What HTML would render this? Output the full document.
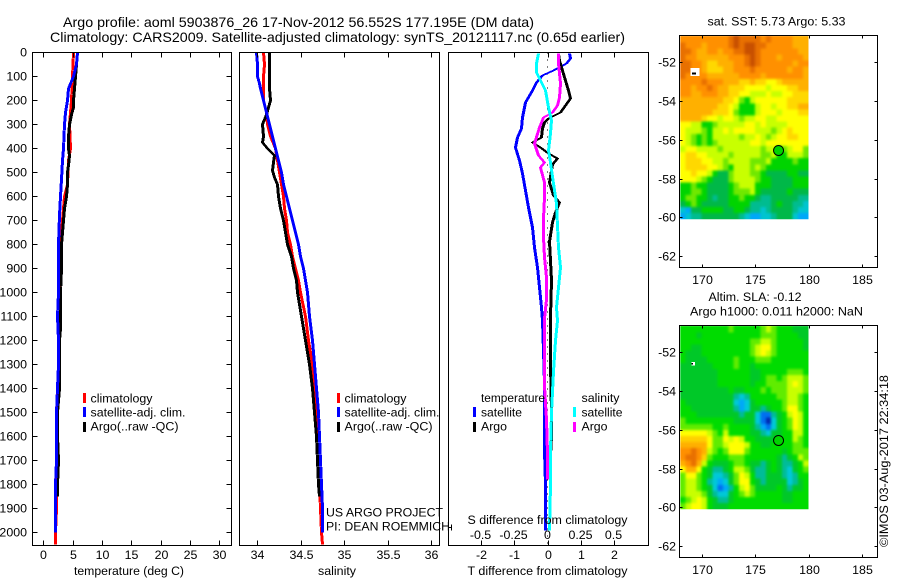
<!DOCTYPE html>
<html>
<head>
<meta charset="utf-8">
<title>Argo profile</title>
<style>
html,body{margin:0;padding:0;background:#fff;}
svg{display:block;}
text{font-family:"Liberation Sans",sans-serif;font-size:12.4px;fill:#000;}
</style>
</head>
<body>
<svg id="chart" xmlns="http://www.w3.org/2000/svg" width="900" height="580" viewBox="0 0 900 580">
  <defs>
    <filter id="soften" x="-5%" y="-5%" width="110%" height="110%" color-interpolation-filters="sRGB">
      <feGaussianBlur stdDeviation="1.3"/>
    </filter>
    <clipPath id="clip-map-0"><rect id="clip-rect-0"/></clipPath>
    <clipPath id="clip-map-1"><rect id="clip-rect-1"/></clipPath>
  </defs>
  <rect x="0" y="0" width="900" height="580" fill="#fff"/>
  <text x="63" y="27" style="font-size:14px" textLength="471" lengthAdjust="spacingAndGlyphs">Argo profile: aoml 5903876_26 17-Nov-2012 56.552S 177.195E (DM data)</text>
  <text x="50" y="42" style="font-size:14px" textLength="575" lengthAdjust="spacingAndGlyphs">Climatology: CARS2009. Satellite-adjusted climatology: synTS_20121117.nc (0.65d earlier)</text>

  <g id="layer-heat"></g>
  <g id="layer-lines"></g>
  <g id="layer-axes"></g>

  <text x="74" y="575" textLength="110" lengthAdjust="spacingAndGlyphs">temperature (deg C)</text>
  <text x="318" y="575" textLength="38" lengthAdjust="spacingAndGlyphs">salinity</text>
  <text x="467.5" y="524" textLength="160" lengthAdjust="spacingAndGlyphs">S difference from climatology</text>
  <text x="467.5" y="575" textLength="160" lengthAdjust="spacingAndGlyphs">T difference from climatology</text>

  <g>
    <rect x="83" y="393" width="3" height="10" fill="#f00"/>
    <rect x="83" y="407" width="3" height="10" fill="#00f"/>
    <rect x="83" y="422" width="3" height="10" fill="#000"/>
    <text x="90.5" y="402.5" textLength="62" lengthAdjust="spacingAndGlyphs">climatology</text>
    <text x="90.5" y="416.5" textLength="95" lengthAdjust="spacingAndGlyphs">satellite-adj. clim.</text>
    <text x="90.5" y="430.5" textLength="88" lengthAdjust="spacingAndGlyphs">Argo(..raw -QC)</text>
  </g>
  <g>
    <rect x="337" y="393" width="3" height="10" fill="#f00"/>
    <rect x="337" y="407" width="3" height="10" fill="#00f"/>
    <rect x="337" y="422" width="3" height="10" fill="#000"/>
    <text x="344.5" y="402.5" textLength="62" lengthAdjust="spacingAndGlyphs">climatology</text>
    <text x="344.5" y="416.5" textLength="95" lengthAdjust="spacingAndGlyphs">satellite-adj. clim.</text>
    <text x="344.5" y="430.5" textLength="88" lengthAdjust="spacingAndGlyphs">Argo(..raw -QC)</text>
    <text x="326" y="516.5" textLength="117" lengthAdjust="spacingAndGlyphs">US ARGO PROJECT</text>
    <text x="326" y="530.5" textLength="124" lengthAdjust="spacingAndGlyphs">PI: DEAN ROEMMICH</text>
  </g>
  <g>
    <text x="481" y="402" textLength="64" lengthAdjust="spacingAndGlyphs">temperature</text>
    <rect x="473" y="407" width="3" height="10" fill="#00f"/>
    <text x="481" y="416.5" textLength="41" lengthAdjust="spacingAndGlyphs">satellite</text>
    <rect x="473" y="422" width="3" height="10" fill="#000"/>
    <text x="481" y="430.5" textLength="26" lengthAdjust="spacingAndGlyphs">Argo</text>
    <text x="581.5" y="402" textLength="38" lengthAdjust="spacingAndGlyphs">salinity</text>
    <rect x="573" y="407" width="3" height="10" fill="#00ffff"/>
    <text x="581.5" y="416.5" textLength="41" lengthAdjust="spacingAndGlyphs">satellite</text>
    <rect x="573" y="422" width="3" height="10" fill="#f0f"/>
    <text x="581.5" y="430.5" textLength="26" lengthAdjust="spacingAndGlyphs">Argo</text>
  </g>

  <text x="707.5" y="25.5" textLength="138" lengthAdjust="spacingAndGlyphs">sat. SST: 5.73 Argo: 5.33</text>
  <text x="708.5" y="301" textLength="93" lengthAdjust="spacingAndGlyphs">Altim. SLA: -0.12</text>
  <text x="690" y="315.5" textLength="173" lengthAdjust="spacingAndGlyphs">Argo h1000: 0.011 h2000: NaN</text>
  <text transform="translate(888,547) rotate(-90)" textLength="172" lengthAdjust="spacingAndGlyphs">©IMOS 03-Aug-2017 22:34:18</text>
</svg>

<script>
// ---- tick labels ----
const depthTicks = [0,100,200,300,400,500,600,700,800,900,1000,1100,1200,1300,1400,1500,1600,1700,1800,1900,2000];
const temperatureTicks = [0,5,10,15,20,25,30];
const salinityTicks = [34,34.5,35,35.5,36];
const salinityTickLabels = ["34","34.5","35","35.5","36"];
const tDiffTicks = [-2,-1,0,1,2];
const sDiffTicks = [-0.5,-0.25,0,0.25,0.5];
const latTicks = [-52,-54,-56,-58,-60,-62];
const lonTicks = [170,175,180,185];

// ---- temperature profiles (deg C) ----
const climTDepth = [0,100,200,300,400,450,550,600,700,800,900,1000,1100,1200,1300,1400,1500,1600,1700,1800,1900,2000,2050];
const climT = [5.0,4.84,4.66,4.44,4.55,4.27,3.98,3.5,3.2,2.9,2.73,2.6,2.55,2.5,2.45,2.4,2.35,2.3,2.25,2.2,2.15,2.05,2.05];
const satTDepth = [0,50,100,150,200,250,300,400,450,530,600,680,800,900,1000,1100,1200,1300,1400,1500,1600,1700,1800,1900,2000];
const satT = [5.8,5.57,5.0,4.27,4.0,3.7,3.5,3.4,3.24,3.07,2.9,2.73,2.56,2.5,2.56,2.4,2.5,2.45,2.33,2.16,2.2,2.16,2.0,2.0,2.0];
const argoTDepth = [0,50,100,200,230,260,300,350,400,430,470,500,550,600,650,700,750,800,900,1000,1150,1200,1300,1400,1500,1600,1700,1800,1850];
const argoT = [5.7,5.57,5.35,5.1,5.0,4.66,4.38,4.27,4.15,4.44,4.2,4.1,4.04,3.8,3.5,3.4,3.24,3.1,3.0,2.85,2.85,2.73,2.68,2.6,2.4,2.4,2.5,2.4,2.35];

// ---- salinity profiles ----
const climSDepth = [0,50,100,150,200,250,300,350,400,450,500,550,600,650,700,750,800,850,900,950,1000,1100,1200,1300,1400,1500,1600,1700,1800,1900,2000,2050];
const climS = [34.073,34.084,34.073,34.065,34.073,34.1,34.12,34.15,34.207,34.234,34.257,34.276,34.295,34.314,34.333,34.35,34.38,34.4,34.433,34.467,34.494,34.55,34.59,34.63,34.667,34.686,34.693,34.7,34.716,34.728,34.74,34.743];
const satSDepth = [0,50,100,130,150,200,250,300,350,400,450,500,550,600,650,700,750,800,850,900,950,1000,1100,1200,1300,1400,1500,1600,1700,1800,1900,2000];
const satS = [33.99,34.004,34.004,34.027,34.04,34.073,34.1,34.14,34.17,34.207,34.245,34.276,34.3,34.333,34.37,34.4,34.433,34.467,34.494,34.525,34.55,34.57,34.6,34.63,34.655,34.68,34.697,34.713,34.724,34.736,34.747,34.75];
const argoSDepth = [0,50,100,150,200,230,260,300,350,375,400,430,460,490,520,550,600,650,700,750,800,850,900,950,1000,1100,1200,1300,1400,1500,1600,1700,1800,1850];
const argoS = [34.134,34.14,34.138,34.14,34.146,34.13,34.1,34.057,34.073,34.06,34.12,34.2,34.18,34.17,34.19,34.226,34.24,34.264,34.3,34.32,34.35,34.387,34.418,34.444,34.456,34.5,34.548,34.594,34.636,34.655,34.674,34.693,34.705,34.713];

// ---- differences from climatology ----
const satTDiffDepth = [5,26,47,75,96,124,158,207,269,318,353,394,450,505,575,644,728,811,894,978,1061,1117,1242,1380,1520,1660,1800,1990];
const satTDiff = [0.64,0.68,0.54,0.17,-0.18,-0.36,-0.48,-0.68,-0.78,-0.8,-0.93,-0.98,-0.86,-0.78,-0.68,-0.58,-0.48,-0.4,-0.33,-0.25,-0.2,-0.18,-0.14,-0.1,-0.1,-0.11,-0.08,-0.08];
const argoTDiffDepth = [5,33,75,117,158,193,221,248,273,293,318,353,375,394,419,441,468,542,597,625,667,708,786,950,1100,1300,1500,1600,1754];
const argoTDiff = [0.32,0.34,0.42,0.52,0.62,0.67,0.52,0.37,0.02,-0.1,-0.18,-0.2,-0.46,-0.23,0.02,0.27,0.12,0.04,0.17,0.34,0.22,0.14,0.04,0.1,0.07,0.07,0.1,0.1,0.05];
const argoSDiffDepth = [5,47,89,131,186,221,248,272,311,378,428,460,478,540,606,690,772,856,939,1030,1110,1220,1390,1530,1670,1780];
const argoSDiff = [0.075,0.08,0.085,0.093,0.085,0.068,0.03,-0.032,-0.065,-0.1,-0.07,-0.03,-0.06,-0.03,-0.03,-0.035,-0.035,-0.03,-0.015,-0.01,-0.025,-0.03,-0.025,-0.012,-0.008,-0.008];
const satSDiffDepth = [5,47,82,117,158,228,283,336,408,458,544,628,722,811,894,978,1061,1117,1200,1330,1500,1660,1800,1990];
const satSDiff = [-0.075,-0.085,-0.088,-0.058,-0.02,0.005,0.025,0.018,0,0.018,0.043,0.063,0.068,0.08,0.09,0.08,0.06,0.068,0.055,0.042,0.025,0.02,0.02,0.012];

// ---- heatmap colour levels ----
const sstColours = ["#0028b0","#0080f0","#00a8f8","#00c4d0","#00bc90","#00b848","#00d400","#70e800","#c8ff00","#ffff00","#ffd800","#ffb000","#ff9000","#e87000","#c85000"];
const slaColours = ["#0028b0","#0070f0","#00a8f8","#00c8d8","#00bc98","#00c828","#00dc00","#60ec00","#c8ff00","#ffff00","#ffd000","#ffb000","#ff9000","#e87000","#c85000"];

// ---- SST map: colour-level cells, north to south, 168E to 180E ----
const sstGrid = [
[12,12,12,12,12,12,12,12,12,13,14,13,13,13,13,12,13,12,12,12,12,11,11,11],
[13,12,12,12,11,12,12,12,12,13,14,13,14,14,13,13,12,12,12,12,12,11,11,11],
[13,13,12,11,11,12,12,11,12,12,13,13,14,14,13,12,12,12,12,12,12,12,11,11],
[13,12,12,11,11,11,11,11,11,12,12,12,13,14,13,12,12,12,11,12,12,12,12,11],
[13,13,12,12,11,10,10,11,11,11,12,12,13,14,13,12,12,12,12,12,12,11,12,12],
[13,13,12,12,11,10,10,10,11,11,12,12,12,13,12,12,12,12,12,12,11,12,12,11],
[13,12,12,12,12,11,11,11,11,11,11,12,12,12,12,11,12,12,12,12,12,12,12,11],
[12,12,12,12,13,12,12,12,11,11,11,10,10,11,10,10,9,9,10,11,11,11,11,11],
[12,12,11,12,12,13,12,11,11,10,10,10,9,9,9,9,8,9,9,9,10,10,11,11],
[12,12,11,11,12,12,12,11,11,10,10,9,9,8,8,8,9,8,8,9,9,10,10,10],
[11,11,11,11,11,11,11,11,10,10,9,7,6,8,9,9,9,9,9,9,10,10,10,10],
[11,11,11,11,11,11,11,10,10,9,8,6,6,6,8,9,9,8,9,9,10,10,11,11],
[11,11,11,11,11,11,10,10,10,9,7,6,6,6,8,9,9,9,8,9,9,9,10,10],
[11,11,11,11,10,9,9,8,9,9,8,7,8,8,9,9,8,8,9,9,9,9,9,9],
[9,9,8,8,6,6,7,8,8,8,8,8,9,9,8,9,8,8,8,8,9,9,9,9],
[9,8,8,8,7,6,8,8,9,8,9,9,9,9,8,8,8,7,8,9,10,9,9,9],
[9,8,7,6,7,6,8,8,8,8,8,7,8,8,9,8,7,8,9,9,10,10,9,9],
[9,8,7,6,7,6,7,8,8,8,8,8,8,9,9,8,9,9,9,9,9,9,9,9],
[8,9,9,8,8,8,8,7,8,8,8,8,8,8,8,7,8,8,6,7,8,9,9,7],
[9,10,10,9,9,8,8,8,8,7,8,8,8,8,8,7,7,8,6,6,8,8,8,7],
[9,10,10,10,9,9,8,8,7,8,8,8,8,7,7,7,8,6,6,6,6,7,6,6],
[9,10,10,10,10,9,9,8,7,6,8,8,8,7,8,7,6,6,6,6,6,6,6,6],
[9,9,10,9,9,8,6,5,5,7,8,8,8,7,7,6,5,5,5,5,6,6,5,5],
[9,9,9,8,7,6,5,5,5,7,8,8,8,8,7,6,6,5,5,5,5,6,6,6],
[6,6,7,6,6,5,5,5,5,6,7,8,8,8,6,6,6,5,5,5,5,6,6,6],
[6,6,7,7,6,5,5,5,5,6,7,7,7,8,6,5,5,5,5,5,6,5,5,5],
[6,7,7,6,6,5,4,5,5,6,6,7,6,6,5,4,4,5,5,5,5,5,4,4],
[5,6,7,6,5,5,5,5,5,6,6,6,6,4,4,4,4,5,6,5,5,4,4,3],
[3,2,5,5,6,6,6,6,5,5,6,6,5,4,4,3,4,5,5,5,5,4,3,3],
[2,3,4,4,5,5,5,5,5,5,5,4,3,2,2,3,3,4,5,5,5,3,2,2]
];

// ---- altimetry SLA map: colour-level cells ----
const slaGrid = [
[6,6,6,6,6,6,6,6,6,7,6,6,6,6,6,7,8,7,6,6,6,5,5,5],
[6,6,6,5,6,6,6,6,6,6,6,6,6,6,6,7,7,7,6,6,6,6,5,5],
[6,6,6,6,6,6,6,6,6,6,6,6,6,7,7,8,8,7,6,6,6,6,6,5],
[6,6,5,5,6,6,6,6,6,6,6,6,6,7,8,9,9,7,6,6,6,6,6,5],
[6,5,5,5,6,6,6,6,6,6,6,6,6,7,8,9,8,7,6,6,6,6,6,6],
[6,5,5,5,5,6,6,6,6,6,7,6,6,6,7,7,7,6,6,6,6,6,6,6],
[5,5,5,5,5,5,6,6,6,6,7,6,6,5,6,6,6,6,6,6,6,6,6,6],
[5,5,5,5,5,5,5,6,6,6,6,6,6,5,5,6,6,6,6,6,7,7,7,6],
[5,5,5,5,5,5,5,6,6,6,6,6,6,5,5,6,7,7,6,7,8,8,8,7],
[5,5,5,5,5,5,5,6,6,6,6,6,6,5,6,6,7,7,7,7,8,9,8,7],
[5,5,5,5,5,5,5,5,5,6,5,5,6,6,6,7,6,7,7,7,8,8,8,7],
[5,5,5,5,5,5,5,5,5,5,4,3,4,6,6,6,6,6,7,7,8,8,7,6],
[6,5,5,5,5,5,5,5,5,5,3,2,3,5,6,6,6,6,6,7,8,8,7,6],
[6,6,5,5,5,5,5,5,5,5,4,2,3,5,5,4,5,6,6,7,9,9,7,6],
[6,6,6,5,5,5,5,5,5,5,5,4,5,5,3,1,1,4,5,6,8,9,8,6],
[7,6,6,6,6,6,6,6,6,6,5,5,5,5,3,1,0,3,5,6,7,9,8,6],
[7,7,7,7,7,7,6,6,7,6,6,6,6,5,4,2,1,3,5,6,7,9,8,6],
[9,9,9,9,9,8,7,6,8,6,6,6,6,5,5,4,3,5,5,6,6,8,8,6],
[10,10,10,10,10,9,7,7,9,8,9,8,6,6,5,5,5,5,5,6,6,8,7,6],
[11,11,11,11,11,9,7,7,8,9,9,9,8,6,6,5,5,6,6,6,6,7,7,6],
[12,12,13,12,11,8,7,6,7,9,9,9,7,6,6,6,6,6,6,5,6,7,7,7],
[12,13,13,12,10,7,6,6,6,7,7,7,6,6,6,6,6,6,5,4,5,6,8,7],
[11,12,13,11,8,6,5,5,5,6,7,7,6,5,5,4,5,6,5,4,4,5,6,8],
[9,11,11,9,6,5,4,4,5,6,8,8,7,5,4,4,5,6,5,4,3,5,6,7],
[7,9,9,7,6,5,3,3,4,5,7,9,8,6,4,4,5,5,5,4,3,4,6,6],
[7,8,8,7,6,4,3,2,3,5,7,9,9,6,5,4,5,5,5,5,3,4,5,6],
[7,8,8,7,6,5,3,1,2,4,6,8,9,7,5,5,5,5,6,5,4,5,5,6],
[7,8,8,8,7,5,4,3,3,5,6,7,8,7,6,6,6,6,6,5,5,6,6,6],
[6,7,8,9,8,6,5,4,4,5,6,6,6,6,6,6,6,6,6,5,5,6,6,6],
[7,8,9,9,8,6,5,5,5,6,6,6,6,6,6,6,6,6,6,6,6,6,6,6]
];

// ---- Argo float position ----
const floatLon = [177.195];
const floatLat = [-56.552];

// ---- layout ----
const SVGNS = "http://www.w3.org/2000/svg";
const topY = 52.5, botY = 545.5;
const panelL = [32.5, 239.5, 448.5];
const panelR = [231.5, 439.5, 648.5];
const mapL = 679.5, mapR = 877.5;
const mapTops = [35.5, 325.5];
const mapBots = [267.5, 557.5];
const gridLonMin = 168, gridLonMax = 180, gridLatMax = -50.65, gridLatMin = -60.1;

function depthY(d){ return 52 + d * 0.24; }
function tempX(t){ return 43.3 + t * 5.86; }
function salX(s){ return 257 + (s - 34) * 87; }
function tDiffX(t){ return 547.7 + t * 33.3; }
function sDiffX(s){ return 547.7 + s * 133.2; }
function lonX(lon){ return 701.7 + (lon - 170) * 10.68; }
function latY(lat, mapIndex){ return 62.3 + (mapIndex ? 290 : 0) + (-52 - lat) * 19.37; }

function make(tag, parent){
  const e = document.createElementNS(SVGNS, tag);
  parent.appendChild(e);
  return e;
}
function setA(e, o){ for (const k in o) e.setAttribute(k, o[k]); return e; }

const heat = document.getElementById("layer-heat");
const lines = document.getElementById("layer-lines");
const axes = document.getElementById("layer-axes");

// ---- profile lines: drawn with a 3x1 px pen (thick on steep runs, thin on flat runs) ----
function drawLine(name, depths, values, xf, colour){
  const p = make("path", lines);
  
  
  let d = "";
  [-1, 0, 1].forEach(function(off){
    depths.forEach(function(dep, i){
      const x = Math.round(xf(values[i])) + 0.5 + off;
      const y = Math.round(depthY(dep)) + 0.5;
      d += (i === 0 ? "M" : "L") + x + " " + y;
    });
  });
  setA(p, {d: d, fill: "none", stroke: colour, "stroke-width": 1, "shape-rendering": "crispEdges"});
}
drawLine("temperature-climatology-line", climTDepth, climT, tempX, "#f00");
drawLine("temperature-argo-line", argoTDepth, argoT, tempX, "#000");
drawLine("temperature-satellite-line", satTDepth, satT, tempX, "#00f");
drawLine("salinity-climatology-line", climSDepth, climS, salX, "#f00");
drawLine("salinity-argo-line", argoSDepth, argoS, salX, "#000");
drawLine("salinity-satellite-line", satSDepth, satS, salX, "#00f");

const zeroLine = make("line", lines);


setA(zeroLine, {x1: 547.5, x2: 547.5, y1: topY, y2: botY, stroke: "#000", "stroke-width": 1, "stroke-dasharray": "1 6", "shape-rendering": "crispEdges"});

drawLine("t-difference-satellite-line", satTDiffDepth, satTDiff, tDiffX, "#00f");
drawLine("t-difference-argo-line", argoTDiffDepth, argoTDiff, tDiffX, "#000");
drawLine("s-difference-argo-line", argoSDiffDepth, argoSDiff, sDiffX, "#f0f");
drawLine("s-difference-satellite-line", satSDiffDepth, satSDiff, sDiffX, "#00ffff");

// ---- axis helpers ----
function frame(name, x1, y1, x2, y2){
  const r = make("rect", axes);
  
  
  setA(r, {x: x1, y: y1, width: x2 - x1, height: y2 - y1, fill: "none", stroke: "#000", "stroke-width": 1, "shape-rendering": "crispEdges"});
}
function tick(x1, y1, x2, y2){
  const l = make("line", axes);
  
  
  setA(l, {x1: x1, y1: y1, x2: x2, y2: y2, stroke: "#000", "stroke-width": 1, "shape-rendering": "crispEdges"});
}
function label(str, x, y, anchor){
  const t = make("text", axes);
  
  
  setA(t, {x: x, y: y, "text-anchor": anchor});
  t.textContent = str;
}

frame("temperature-panel-frame", panelL[0], topY, panelR[0], botY);
frame("salinity-panel-frame", panelL[1], topY, panelR[1], botY);
frame("difference-panel-frame", panelL[2], topY, panelR[2], botY);

depthTicks.forEach(function(d){
  const y = Math.round(depthY(d)) + 0.5;
  if (d > 0) {
    tick(panelL[0], y, panelL[0] + 5, y);
    tick(panelR[0], y, panelR[0] - 5, y);
  }
  label(String(d), 27, y + 4, "end");
});
temperatureTicks.forEach(function(t){
  const x = Math.round(tempX(t)) + 0.5;
  tick(x, topY, x, topY + 5);
  tick(x, botY, x, botY - 5);
  label(String(t), x, 559, "middle");
});
salinityTicks.forEach(function(s, i){
  const x = Math.round(salX(s)) + 0.5;
  tick(x, topY, x, topY + 5);
  tick(x, botY, x, botY - 5);
  label(salinityTickLabels[i], x, 559, "middle");
});
tDiffTicks.forEach(function(t){
  const x = Math.round(tDiffX(t)) + 0.5;
  tick(x, topY, x, topY + 5);
  label(String(t), x, 559, "middle");
});
sDiffTicks.forEach(function(s){
  const x = Math.round(sDiffX(s)) + 0.5;
  tick(x, botY, x, botY - 5);
  label(String(s), x - 1, 539, "middle");
});
tick(448.5, 527.5, 451.5, 527.5);
tick(451.5, 524.5, 451.5, 530.5);

// ---- heatmaps ----
function drawGrid(name, grid, colours, mapIndex){
  const rows = grid.length, cols = grid[0].length;
  const cw = (gridLonMax - gridLonMin) / cols;
  const ch = (gridLatMax - gridLatMin) / rows;
  const clipRect = document.getElementById("clip-rect-" + mapIndex);
  setA(clipRect, {
    x: lonX(gridLonMin),
    y: latY(gridLatMax, mapIndex),
    width: lonX(gridLonMax) - lonX(gridLonMin),
    height: latY(gridLatMin, mapIndex) - latY(gridLatMax, mapIndex)
  });
  const outer = make("g", heat);
  
  
  outer.setAttribute("clip-path", "url(#clip-map-" + mapIndex + ")");
  const inner = make("g", outer);
  
  
  inner.setAttribute("filter", "url(#soften)");
  grid.forEach(function(row, r){
    row.forEach(function(level, c){
      let x1 = lonX(gridLonMin + c * cw), x2 = lonX(gridLonMin + (c + 1) * cw);
      let y1 = latY(gridLatMax - r * ch, mapIndex), y2 = latY(gridLatMax - (r + 1) * ch, mapIndex);
      if (c === 0) x1 -= 8;
      if (c === cols - 1) x2 += 8;
      if (r === 0) y1 -= 8;
      if (r === rows - 1) y2 += 8;
      const cell = make("rect", inner);
      
      
      setA(cell, {x: x1.toFixed(1), y: y1.toFixed(1), width: (x2 - x1 + 0.4).toFixed(1), height: (y2 - y1 + 0.4).toFixed(1), fill: colours[level], "shape-rendering": "crispEdges"});
    });
  });
}
drawGrid("sst", sstGrid, sstColours, 0);
drawGrid("sla", slaGrid, slaColours, 1);

// land gaps around the small island
const sstGap = make("rect", heat);


setA(sstGap, {x: lonX(168.95), y: latY(-52.3, 0), width: 8.8, height: 8, fill: "#fff", "shape-rendering": "crispEdges"});
const sstIsland = make("rect", heat);


setA(sstIsland, {x: lonX(169.1), y: latY(-52.52, 0), width: 4, height: 2, fill: "#000", "shape-rendering": "crispEdges"});
const slaGap = make("rect", heat);


setA(slaGap, {x: lonX(169.05), y: latY(-52.5, 1), width: 3.5, height: 3.5, fill: "#fff", "shape-rendering": "crispEdges"});
const slaIsland = make("rect", heat);


setA(slaIsland, {x: lonX(169.05), y: latY(-52.55, 1), width: 1.5, height: 1.5, fill: "#000", "shape-rendering": "crispEdges"});

// ---- map frames, ticks, markers ----
[0, 1].forEach(function(m){
  frame(m ? "sla-map-frame" : "sst-map-frame", mapL, mapTops[m], mapR, mapBots[m]);
  latTicks.forEach(function(lat){
    const y = Math.round(latY(lat, m)) + 0.5;
    tick(mapL, y, mapL + 3, y);
    tick(mapR, y, mapR - 3, y);
    label(String(lat), 676, y + 4, "end");
  });
  lonTicks.forEach(function(lon){
    const x = Math.round(lonX(lon)) + 0.5;
    tick(x, mapTops[m], x, mapTops[m] + 3);
    tick(x, mapBots[m], x, mapBots[m] - 3);
    label(String(lon), x, mapBots[m] + 16.5, "middle");
  });
  const c = make("circle", axes);
  
  
  setA(c, {cx: lonX(floatLon[0]), cy: latY(floatLat[0], m), r: 5, fill: "#00d400", stroke: "#000", "stroke-width": 1});
});
</script>
</body>
</html>
